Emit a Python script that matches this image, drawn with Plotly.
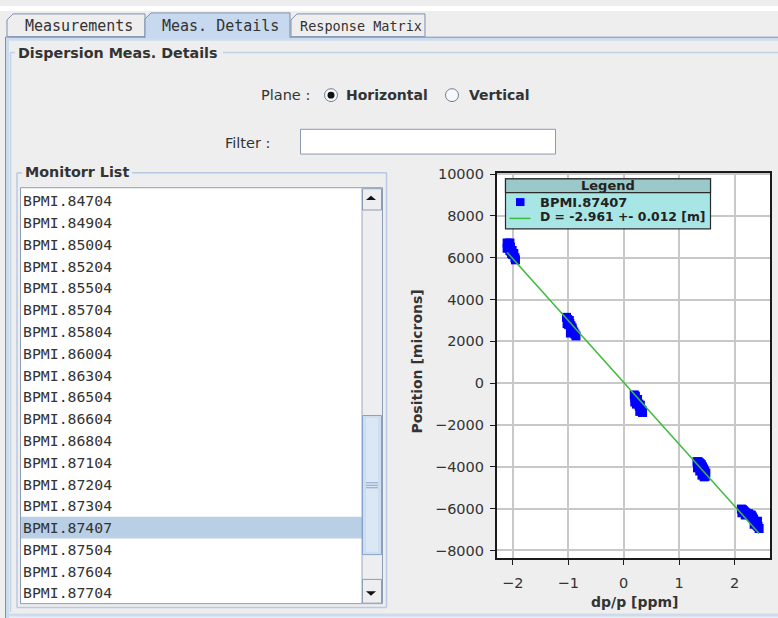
import plotly.graph_objects as go

W, H = 778, 618

# ---- panel content -------------------------------------------------------
tab_titles = ["Measurements", "Meas. Details", "Response Matrix"]
active_tab = "Meas. Details"
group_title = "Dispersion Meas. Details"
plane_options = ["Horizontal", "Vertical"]
plane_selected = "Horizontal"
list_title = "Monitorr List"
monitors = [
    "BPMI.84704", "BPMI.84904", "BPMI.85004", "BPMI.85204", "BPMI.85504",
    "BPMI.85704", "BPMI.85804", "BPMI.86004", "BPMI.86304", "BPMI.86504",
    "BPMI.86604", "BPMI.86804", "BPMI.87104", "BPMI.87204", "BPMI.87304",
    "BPMI.87407", "BPMI.87504", "BPMI.87604", "BPMI.87704",
]
selected_monitor = "BPMI.87407"

# ---- dispersion measurement of the selected monitor ------------------------
dpp_step1 = [-2.10, -2.09, -2.08, -2.07, -2.06, -2.05, -2.04, -2.03, -2.02, -2.01, -2.00, -1.98, -1.96, -1.95, -2.10, -2.05]
pos_step1 = [6700, 6600, 6500, 6650, 6450, 6700, 6500, 6300, 6200, 6350, 6150, 6200, 6000, 5900, 6450, 6350]
dpp_step2 = [-1.03, -1.01, -1.00, -0.99, -0.98, -0.97, -0.95, -0.94, -0.93, -0.92, -0.90, -0.88, -0.86, -1.02, -0.96]
pos_step2 = [3150, 3050, 2950, 2800, 3000, 2850, 2750, 2500, 2650, 2550, 2450, 2350, 2260, 2850, 2400]
dpp_step3 = [0.19, 0.20, 0.21, 0.22, 0.23, 0.24, 0.25, 0.27, 0.28, 0.30, 0.31, 0.33, 0.34, 0.20, 0.29]
pos_step3 = [-560, -700, -620, -820, -1000, -900, -780, -1000, -1100, -1050, -1250, -1300, -1400, -900, -1350]
dpp_step4 = [1.32, 1.33, 1.34, 1.36, 1.37, 1.38, 1.39, 1.40, 1.41, 1.42, 1.44, 1.45, 1.46, 1.47, 1.48]
pos_step4 = [-3760, -4050, -3750, -3800, -4200, -3850, -4150, -3900, -4400, -4000, -4100, -4480, -4200, -4450, -4300]
dpp_step5 = [2.12, 2.13, 2.14, 2.16, 2.18, 2.19, 2.20, 2.22, 2.25, 2.28, 2.30, 2.32,
             2.34, 2.35, 2.36, 2.38, 2.40, 2.41, 2.42, 2.44]
pos_step5 = [-6020, -6200, -6050, -6100, -6150, -6300, -6200, -6250, -6250, -6300, -6320, -6400,
             -6500, -6750, -6600, -6700, -6800, -6600, -6850, -6950]

dispersion_m = -2.961      # fitted dispersion [m]
dispersion_err = 0.012     # fit error [m]
fit_offset = 40.0          # fitted orbit offset [microns]

dpp = dpp_step1 + dpp_step2 + dpp_step3 + dpp_step4 + dpp_step5
pos = pos_step1 + pos_step2 + pos_step3 + pos_step4 + pos_step5
fit_x = [min(dpp), max(dpp)]
fit_y = [dispersion_m * 1000.0 * x + fit_offset for x in fit_x]
fit_label = f"D = {dispersion_m:.3f} +- {dispersion_err:.3f} [m]"

# ---- colours / fonts ------------------------------------------------------
BG = "#EEEEEE"
TXT = "#333333"
TAB_EDGE = "#7D8FB0"
TAB_ACTIVE = "#C6D9EF"
BAND = "#CCDCEF"
GROUP_EDGE = "#C2D3E8"
FIELD_EDGE = "#8A9AB2"
SANS = "DejaVu Sans"
MONO = "DejaVu Sans Mono"

shapes = []
annotations = []


def fx(x):
    return x / W


def fy(y):
    return 1 - y / H


def rect(x0, y0, x1, y1, fill=None, edge=None, width=1, layer="below"):
    shapes.append(dict(
        type="rect", xref="paper", yref="paper",
        x0=fx(x0), x1=fx(x1), y0=fy(y1), y1=fy(y0),
        fillcolor=fill or "rgba(0,0,0,0)",
        line=dict(color=edge or "rgba(0,0,0,0)", width=width if edge else 0),
        layer=layer))


def seg(x0, y0, x1, y1, color, width=1, layer="below"):
    shapes.append(dict(
        type="line", xref="paper", yref="paper",
        x0=fx(x0), x1=fx(x1), y0=fy(y0), y1=fy(y1),
        line=dict(color=color, width=width), layer=layer))


def poly(points, fill, edge=None, width=1, layer="below"):
    d = "M " + " L ".join(f"{fx(x):.5f},{fy(y):.5f}" for x, y in points) + " Z"
    shapes.append(dict(
        type="path", xref="paper", yref="paper", path=d,
        fillcolor=fill,
        line=dict(color=edge or "rgba(0,0,0,0)", width=width if edge else 0),
        layer=layer))


def circle(cx, cy, r, fill, edge=None, width=1, layer="below"):
    shapes.append(dict(
        type="circle", xref="paper", yref="paper",
        x0=fx(cx - r), x1=fx(cx + r), y0=fy(cy + r), y1=fy(cy - r),
        fillcolor=fill,
        line=dict(color=edge or "rgba(0,0,0,0)", width=width if edge else 0),
        layer=layer))


def text(x, y, s, size=14, bold=False, family=SANS, color=TXT,
         xanchor="left", angle=0):
    annotations.append(dict(
        xref="paper", yref="paper", x=fx(x), y=fy(y), text=s,
        showarrow=False, xanchor=xanchor, yanchor="middle", textangle=angle,
        borderpad=0,
        font=dict(family=family, size=size, color=color,
                  weight=700 if bold else 400)))


# window strip above the tabs
rect(0, 0, W, 5, fill="#FFFFFF")

# tabs
tab_spans = [(7, 145), (145, 290), (291, 425)]
tab_font = [15, 15, 13.5]
for title, (a, b), fs in zip(tab_titles, tab_spans, tab_font):
    if title == active_tab:
        poly([(a, 33), (a, 13), (a + 6, 7), (b, 7), (b, 33)], TAB_ACTIVE, TAB_EDGE)
    else:
        poly([(a, 31), (a, 14), (a + 6, 8), (b, 8), (b, 31)], BG, TAB_EDGE)
    text((a + b) / 2 + 3, 20, title, size=fs, family=MONO, xanchor="center")

# tab pane border
rect(5, 32, W + 2, 35, fill=BAND)
seg(5, 31.5, 145, 31.5, TAB_EDGE)
seg(290, 31.5, W, 31.5, TAB_EDGE)
seg(5.5, 31.5, 5.5, H, TAB_EDGE)
rect(6, 32, 9, H, fill=BAND)
seg(6, 615, W, 615, BAND, width=3)

# "Dispersion Meas. Details" group box
seg(10.5, 47, 15, 47, GROUP_EDGE, 1.5)
seg(223, 47, W, 47, GROUP_EDGE, 1.5)
seg(10.5, 47, 10.5, 612, GROUP_EDGE, 1.5)
text(17, 47, group_title, size=14.3, bold=True)

# plane selector
text(311, 90, "Plane :", size=14.5, xanchor="right")
radio_x = [331, 452]
label_x = [345, 468]
for opt, rx, lx in zip(plane_options, radio_x, label_x):
    circle(rx, 90, 6.5, "#F6F8FB", "#6F7F96", 1)
    if opt == plane_selected:
        circle(rx, 90, 3.5, "#111111")
    text(lx, 90, opt, size=14, bold=True)

# filter field
text(271, 138, "Filter :", size=14.5, xanchor="right")
rect(300.5, 124.5, 555.5, 149.5, fill="#FFFFFF", edge=FIELD_EDGE)

# monitor list group box
seg(17, 168.5, 22, 168.5, "#B6CAE2", 1.5)
seg(132, 168.5, 386.5, 168.5, "#B6CAE2", 1.5)
seg(17, 168.5, 17, 607.5, "#B6CAE2", 1.5)
seg(386.5, 168.5, 386.5, 607.5, "#B6CAE2", 1.5)
seg(17, 607.5, 386.5, 607.5, "#B6CAE2", 1.5)
text(24, 168, list_title, size=14.3, bold=True)

# list body
rect(20.5, 183.5, 382.5, 603.5, fill="#FFFFFF", edge="#8C9CB4")
row_h = 22.0
row0 = 196.7
for i, name in enumerate(monitors):
    yc = row0 + row_h * i
    if name == selected_monitor:
        rect(21, yc - 11, 362, yc + 11, fill="#B8CFE5")
    text(22, yc, name, size=14.8, family=MONO)

# vertical scrollbar
rect(362, 184, 382, 603, fill=BG)
seg(362, 184, 362, 603, "#9AAAC2")
rect(362.5, 184.5, 381.5, 206, fill=BG, edge="#8C9CB4")
poly([(366, 196), (376, 196), (371, 191.5)], "#111111")
rect(362.5, 579, 381.5, 603, fill=BG, edge="#8C9CB4")
poly([(366, 591), (376, 591), (371, 595.5)], "#111111")
rect(362.5, 413.5, 381.5, 554, fill="#CFDDF0", edge="#86A2CC")
rect(366, 416, 378, 551, fill="#DCE7F5")
for gy in (481.5, 484, 486.5):
    seg(366, gy, 378, gy, "#86A2CC")

# plot geometry (pixels)
PL, PR, PT, PB = 496.7, 770.0, 168.3, 557.7

# legend box drawn over the plot area
LX0, LX1, LY0, LYH, LY1 = 505.5, 710.5, 174.5, 188.5, 225.0
rect(LX0, LY0, LX1, LY1, fill="#A8E6E6", edge="#2A2A2A", width=1.2, layer="above")
rect(LX0, LY0, LX1, LYH, fill="#9BC8C8", edge="#2A2A2A", width=1.2, layer="above")
text((LX0 + LX1) / 2, 181.5, "Legend", size=13, bold=True, xanchor="center", color="#222222")
rect(516, 194, 524.5, 202, fill="#0000FF", layer="above")
text(539, 198, selected_monitor, size=13, bold=True, color="#222222")
seg(509.5, 214.5, 530.5, 214.5, "#3DBB3D", 1.5, layer="above")
text(539, 213, fit_label, size=12.4, bold=True, color="#222222")

# axis titles
text(417, 359, "Position [microns]", size=14, bold=True, xanchor="center", angle=-90)
text(634, 601.5, "dp/p [ppm]", size=14, bold=True, xanchor="center")

fig = go.Figure()
fig.add_trace(go.Scatter(
    x=dpp, y=pos, mode="markers", name=selected_monitor,
    marker=dict(symbol="square", size=9, color="#0000FF", line=dict(width=0)),
    showlegend=False, hoverinfo="x+y"))
fig.add_trace(go.Scatter(
    x=fit_x, y=fit_y, mode="lines", name=fit_label,
    line=dict(color="#3DBB3D", width=1.5), showlegend=False))

axis_common = dict(
    showgrid=True, gridcolor="#C8C8C8", gridwidth=1.5,
    zeroline=False, showline=True, linecolor="#1A1A1A", linewidth=1.5,
    mirror=True, ticks="outside", ticklen=5, tickwidth=1.2, tickcolor="#1A1A1A",
    tickfont=dict(family=SANS, size=14.5, color=TXT),
)
fig.update_layout(
    width=W, height=H,
    margin=dict(l=0, r=0, t=0, b=0, pad=0),
    paper_bgcolor=BG, plot_bgcolor="#FFFFFF",
    showlegend=False,
    xaxis=dict(domain=[fx(PL), fx(PR)], range=[-2.288, 2.636], dtick=1,
               tick0=0, ticklabelstandoff=6, **axis_common),
    yaxis=dict(domain=[fy(PB), fy(PT)], range=[-8375, 10070], dtick=2000,
               tick0=0, tickformat="d", ticklabelstandoff=3, **axis_common),
    shapes=shapes,
    annotations=annotations,
)

fig.write_html("out.html")
